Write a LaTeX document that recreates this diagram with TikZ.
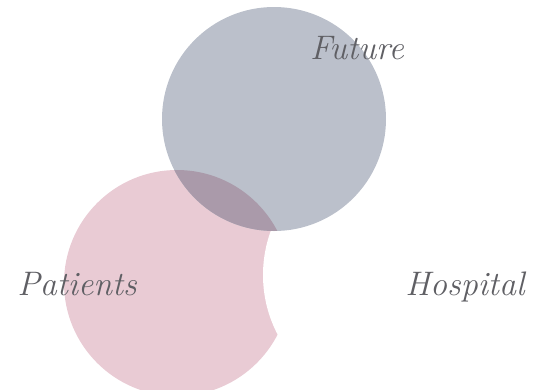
\documentclass[tikz,border=0pt]{standalone}
\usepackage{tikz}
\usepackage{xcolor}
\definecolor{patientpink}{RGB}{233,203,212}
\definecolor{futuregray}{RGB}{187,192,203}
\definecolor{overlapmauve}{RGB}{170,154,170}
\definecolor{inkgray}{RGB}{95,95,100}
\begin{document}
\begin{tikzpicture}[
    x=1pt, y=-1pt,
    setlabel/.style={font=\fontsize{34}{34}\selectfont\itshape, text=inkgray, inner sep=0pt}
  ]
  \useasboundingbox (0,0) rectangle (538,389);

  % Set circles
  \fill[patientpink] (177,283) circle (113pt);
  \fill[white] (391,275) circle (128pt);
  \fill[futuregray] (274,119) circle (112pt);

  % Overlap of patients and future
  \begin{scope}
    \clip (177,283) circle (113pt);
    \fill[overlapmauve] (274,119) circle (112pt);
  \end{scope}

  % Labels
  \node[setlabel] (future) at (357,48) {Future};
  \node[setlabel] (patients) at (77,284) {Patients};
  \node[setlabel] (hospital) at (465,287) {Hospital};
\end{tikzpicture}
\end{document}
